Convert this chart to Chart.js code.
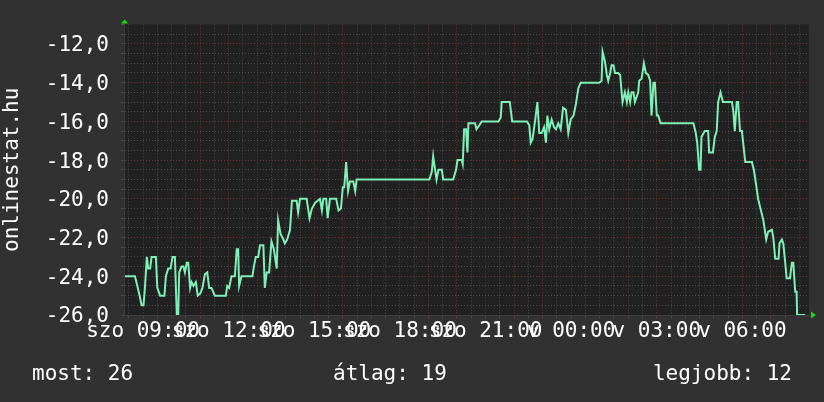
<!DOCTYPE html>
<html><head><meta charset="utf-8">
<script src="https://cdn.jsdelivr.net/npm/chart.js@4/dist/chart.umd.min.js"></script>
<style>
html,body{margin:0;padding:0;background:#313131;}
#wrap{position:relative;width:824px;height:402px;overflow:hidden;}
canvas{display:block;}
.foot{position:absolute;top:363px;font:21px/21px "DejaVu Sans Mono",monospace;color:#fff;white-space:pre;}
</style></head><body>
<div id="wrap">
<canvas id="c" width="824" height="402"></canvas>
<div class="foot" id="f0" style="left:32px"></div>
<div class="foot" id="f1" style="left:333px"></div>
<div class="foot" id="f2" style="right:32px"></div>
</div>
<script>
// time in minutes since 08:20 (szo), rank shown as negative value
const minutes = [2,23,27,32,37,41,44,48,51,55,
58,67,70,76,85,88,93,98,102,107,
111,114,116,121,125,128,132,135,139,142,
146,151,155,160,165,170,175,179,184,191,
214,217,221,226,233,237,240,242,247,270,
273,277,282,286,293,296,300,305,310,315,
321,324,329,335,338,343,349,353,363,366,
370,384,390,395,402,412,416,419,425,428,
433,446,451,456,460,463,467,471,475,482,
486,489,642,647,650,654,657,661,668,671,
692,698,701,710,712,715,719,722,724,738,
741,747,752,787,792,794,811,816,847,852,
855,859,864,869,873,878,883,887,890,894,
899,904,908,913,918,923,929,934,939,945,
950,955,960,999,1004,1006,1011,1015,1018,1022,
1025,1029,1032,1039,1043,1048,1053,1057,1060,1064,
1067,1071,1074,1081,1083,1088,1093,1097,1102,1106,
1109,1113,1116,1120,1123,1128,1197,1202,1205,1209,
1212,1214,1221,1228,1230,1238,1242,1246,1249,1254,
1259,1278,1281,1284,1288,1291,1295,1299,1302,1306,
1320,1324,1329,1333,1339,1344,1350,1354,1362,1365,
1369,1376,1378,1383,1386,1390,1393,1400,1404,1407,
1411,1414,1415,1432];
const rank = [-24.0,-24.0,-24.4,-24.9,-25.5,-25.5,-24.6,-23.0,-23.6,-23.6,
-23.0,-23.0,-24.6,-25.0,-25.0,-24.0,-23.6,-23.6,-23.0,-23.0,
-26.0,-26.0,-23.8,-23.5,-23.5,-23.8,-23.3,-23.3,-24.6,-24.3,
-24.5,-24.3,-25.0,-24.9,-24.6,-23.9,-23.8,-24.6,-24.6,-25.0,
-25.0,-24.5,-24.6,-24.0,-24.0,-22.6,-22.6,-24.5,-24.0,-24.0,
-23.5,-23.0,-23.0,-22.4,-22.4,-24.6,-23.8,-23.8,-22.2,-22.6,
-23.6,-21.1,-21.8,-22.1,-22.3,-22.1,-21.6,-20.1,-20.1,-20.7,
-20.0,-20.0,-21.0,-20.5,-20.2,-20.0,-20.6,-20.0,-20.0,-21.0,
-20.0,-20.0,-20.6,-20.5,-19.4,-19.4,-18.1,-19.6,-19.1,-19.1,
-19.6,-19.0,-19.0,-18.6,-17.8,-18.5,-19.0,-18.5,-18.5,-19.0,
-19.0,-18.5,-18.0,-18.0,-18.2,-16.4,-16.4,-17.6,-16.1,-16.1,
-16.4,-16.2,-16.0,-16.0,-15.8,-15.0,-15.0,-16.0,-16.0,-16.2,
-17.1,-16.9,-16.0,-15.0,-16.6,-16.6,-16.3,-17.1,-15.7,-16.4,
-15.9,-16.3,-16.4,-16.1,-16.4,-15.3,-15.4,-16.6,-15.9,-15.7,
-15.1,-14.3,-14.0,-14.0,-13.9,-12.4,-12.9,-13.6,-13.9,-13.5,
-13.1,-13.1,-13.5,-13.5,-13.6,-15.0,-14.5,-15.0,-14.5,-15.0,
-14.5,-14.5,-15.0,-14.5,-13.9,-13.8,-13.0,-13.5,-13.6,-13.9,
-15.7,-14.0,-14.0,-15.7,-15.7,-16.1,-16.1,-16.6,-17.1,-18.5,
-18.5,-16.8,-16.5,-16.5,-17.6,-17.6,-16.8,-16.5,-15.0,-14.5,
-15.0,-15.0,-15.5,-16.5,-15.0,-15.0,-16.5,-16.5,-17.2,-18.1,
-18.1,-18.5,-19.3,-20.0,-20.6,-21.1,-22.1,-21.7,-21.6,-22.0,
-23.1,-23.1,-22.3,-22.1,-22.3,-23.3,-24.1,-24.1,-23.3,-23.3,
-24.8,-24.8,-26.0,-26.0];

const xLabelMinutes = [40,220,400,580,760,940,1120,1300];
const xLabels = ['szo 09:00','szo 12:00','szo 15:00','szo 18:00','szo 21:00','v 00:00','v 03:00','v 06:00'];
const yLabelValues = [-12,-14,-16,-18,-20,-22,-24,-26];
const yLabels = ['-12,0','-14,0','-16,0','-18,0','-20,0','-22,0','-24,0','-26,0'];
const summaryLabels = ['most','átlag','legjobb'];
const summaryValues = [26,19,12];
const axisTitle = 'onlinestat.hu';

const X_MIN = 0, X_MAX = 1440, Y_MIN = -26, Y_MAX = -11;
const xGrid = []; for (let m = 10; m < X_MAX; m += 30) xGrid.push(m);
const yGrid = []; for (let v = Y_MIN; v <= Y_MAX + 1e-9; v += 0.5) yGrid.push(v);

const RED = '#6e3434', GRAY = '#4b4b4b';
const FONT = {family:'DejaVu Sans Mono', size:21};

const bgPlugin = {
  id:'bg',
  beforeDraw(chart){
    const {ctx, chartArea:a} = chart;
    ctx.save();
    ctx.fillStyle = '#313131'; ctx.fillRect(0,0,chart.width,chart.height);
    ctx.fillStyle = '#212121'; ctx.fillRect(a.left, a.top, a.right-a.left, a.bottom-a.top);
    ctx.restore();
  },
  afterDraw(chart){
    const {ctx, chartArea:a} = chart;
    ctx.save(); ctx.fillStyle = '#11dd11';
    ctx.beginPath(); ctx.moveTo(a.left-3, a.top-1); ctx.lineTo(a.left+4, a.top-1); ctx.lineTo(a.left+0.5, a.top-5); ctx.closePath(); ctx.fill();
    ctx.beginPath(); ctx.moveTo(a.right+2, a.bottom-3.5); ctx.lineTo(a.right+2, a.bottom+3.5); ctx.lineTo(a.right+7, a.bottom); ctx.closePath(); ctx.fill();
    ctx.restore();
  }
};

new Chart(document.getElementById('c'), {
  type:'line',
  data:{datasets:[{
    data: minutes.map((m,i)=>({x:m, y:rank[i]})),
    borderColor:'#7ef0b8', borderWidth:2, pointRadius:0, tension:0, fill:false
  }]},
  plugins:[bgPlugin],
  options:{
    responsive:false, animation:false, devicePixelRatio:1,
    layout:{padding:{left:0, top:14, right:15, bottom:0}},
    plugins:{legend:{display:false}, tooltip:{enabled:false}},
    scales:{
      x:{
        type:'linear', min:X_MIN, max:X_MAX,
        afterBuildTicks(s){ s.ticks = xGrid.map(v=>({value:v})); },
        afterFit(s){ s.height = 87; },
        grid:{
          color: c => ((c.tick.value - 40) % 60 === 0) ? RED : GRAY,
          tickColor: c => ((c.tick.value - 40) % 60 === 0) ? RED : GRAY,
          tickLength:3, lineWidth:1
        },
        border:{display:true, color:'#3c3c3c', dash:[1,2]},
        ticks:{
          autoSkip:false, maxRotation:0, minRotation:0, padding:1, color:'#ffffff', font:FONT,
          callback:(v)=>{ const i = xLabelMinutes.indexOf(v); return i >= 0 ? xLabels[i] : ''; }
        }
      },
      y:{
        type:'linear', min:Y_MIN, max:Y_MAX,
        afterBuildTicks(s){ s.ticks = yGrid.map(v=>({value:v})); },
        afterFit(s){ s.width = 124; },
        grid:{
          color: c => (c.tick.value >= Y_MAX) ? 'rgba(0,0,0,0)' : (Math.abs(c.tick.value % 2) < 1e-9 ? RED : GRAY),
          tickColor: c => (Math.abs(c.tick.value % 2) < 1e-9 ? RED : GRAY),
          tickLength:3, lineWidth:1
        },
        border:{display:true, color:'#3c3c3c', dash:[1,2]},
        ticks:{
          autoSkip:false, padding:12, labelOffset:2, color:'#ffffff', font:FONT,
          callback:(v)=>{ const i = yLabelValues.findIndex(t => Math.abs(t - v) < 1e-9); return i >= 0 ? yLabels[i] : ''; }
        },
        title:{display:true, text:axisTitle, color:'#ffffff', font:FONT, padding:{top:0,bottom:0}}
      }
    }
  }
});

for (let i = 0; i < summaryLabels.length; i++) {
  document.getElementById('f'+i).textContent = summaryLabels[i] + ': ' + summaryValues[i];
}
</script>
</body></html>
